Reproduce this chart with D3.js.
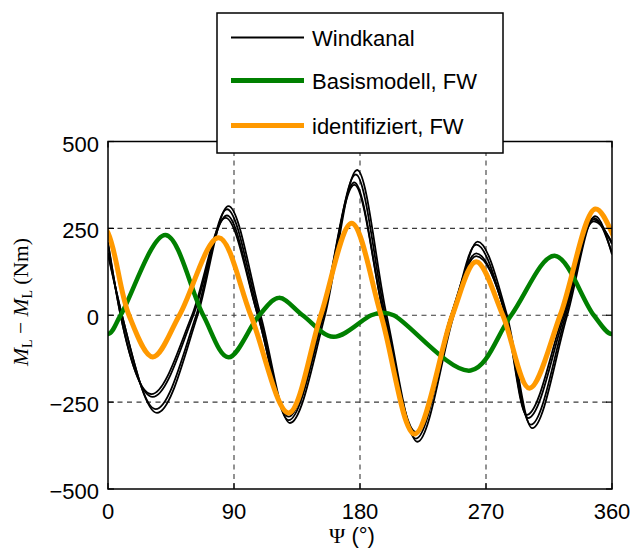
<!DOCTYPE html>
<html><head><meta charset="utf-8">
<script src="https://cdn.jsdelivr.net/npm/d3@7"></script>
<style>body{margin:0;background:#fff}svg{display:block}</style>
</head><body>
<svg id="c" width="633" height="551"></svg>
<script>
// ---- data ----
const xTicks = [0, 90, 180, 270, 360];
const yTicks = [500, 250, 0, -250, -500];
const legendLabels = ["Windkanal", "Basismodell, FW", "identifiziert, FW"];

// Windkanal (several measurement runs)
const psiWindA = [0, 10, 35, 64, 86, 109, 130, 155, 178, 199, 221, 247, 264, 285, 303, 328, 348, 360];
const windA    = [175, 0, -281, 0, 314, 0, -310, 0, 418, 0, -364, 0, 212, 0, -325, 0, 285, 175];
const psiWindA2 = [0, 10, 34, 63, 85, 108, 129, 154, 177, 198, 220, 246, 263, 284, 302, 327, 347, 360];
const windA2    = [180, 0, -270, 0, 305, 0, -302, 0, 405, 0, -355, 0, 203, 0, -315, 0, 280, 180];
const psiWindB = [0, 9, 31, 60, 84, 107, 128, 153, 176, 197, 220, 245, 263, 284, 299, 325, 347, 360];
const windB    = [210, 0, -227, 0, 280, 0, -285, 0, 375, 0, -336, 0, 170, 0, -287, 0, 270, 210];
const psiWindB2 = [0, 9, 32, 61, 85, 107, 129, 153, 176, 197, 220, 245, 263, 284, 300, 326, 347, 360];
const windB2    = [205, 0, -235, 0, 287, 0, -292, 0, 382, 0, -342, 0, 178, 0, -296, 0, 275, 205];

// Basismodell, FW  (first/last points continue the periodic curve past the axis ends)
const psiBasis = [-13, 0, 9, 41, 68, 86, 108, 122, 139, 161, 188, 196, 204, 259, 288, 319, 347, 360, 369];
const basis    = [0, -54, 0, 231, 0, -121, 0, 50, 0, -62, 0, 7, 0, -159, 0, 171, 0, -54, 0];

// identifiziert, FW
const psiIdent = [-12, 0, 15, 32, 51, 79, 102, 129, 152, 174, 195, 219, 246, 263, 282, 301, 323, 348, 360, 375];
const ident    = [306, 237, 0, -120, 0, 223, 0, -281, 0, 265, 0, -342, 0, 154, 0, -210, 0, 306, 237, 0];

// ---- layout ----
const svg = d3.select("#c");
const L = 108, R = 612, T = 141.5, B = 489;
const x = d3.scaleLinear().domain([0, 360]).range([L, R]);
const y = d3.scaleLinear().domain([-500, 500]).range([B, T]);
const sans = "'Liberation Sans', Arial, Helvetica, sans-serif";
const serif = "'Liberation Serif', 'Times New Roman', serif";

// grid
const grid = svg.append("g").attr("stroke", "#3a3a3a").attr("stroke-width", 1.1).attr("stroke-dasharray", "5,4.5");
[90, 180, 270].forEach(v => grid.append("line").attr("x1", x(v)).attr("x2", x(v)).attr("y1", T).attr("y2", B));
[250, 0, -250].forEach(v => grid.append("line").attr("x1", L).attr("x2", R).attr("y1", y(v)).attr("y2", y(v)));

// curves
const lineBlack = d3.line().x(d => x(d[0])).y(d => y(d[1])).curve(d3.curveMonotoneX);
const lineSmooth = d3.line().x(d => x(d[0])).y(d => y(d[1])).curve(d3.curveCatmullRom.alpha(0.5));
const zip = (a, b) => a.map((v, i) => [v, b[i]]);
svg.append("clipPath").attr("id", "clp").append("rect").attr("x", L).attr("y", T - 20).attr("width", R - L).attr("height", B - T + 20);
const plot = svg.append("g").attr("clip-path", "url(#clp)");
[[psiWindA, windA], [psiWindA2, windA2], [psiWindB, windB], [psiWindB2, windB2]].forEach(([p, v]) =>
  plot.append("path").attr("d", lineBlack(zip(p, v))).attr("fill", "none").attr("stroke", "#000").attr("stroke-width", 1.8).attr("stroke-linejoin", "round"));
plot.append("path").attr("d", lineSmooth(zip(psiBasis, basis))).attr("fill", "none").attr("stroke", "#008000").attr("stroke-width", 4.5);
plot.append("path").attr("d", lineSmooth(zip(psiIdent, ident))).attr("fill", "none").attr("stroke", "#ff9900").attr("stroke-width", 5);

// frame
svg.append("rect").attr("x", L).attr("y", T).attr("width", R - L).attr("height", B - T)
  .attr("fill", "none").attr("stroke", "#000").attr("stroke-width", 1.5);

// ticks
const tk = svg.append("g").attr("stroke", "#000").attr("stroke-width", 1.2);
xTicks.forEach(v => {
  tk.append("line").attr("x1", x(v)).attr("x2", x(v)).attr("y1", B).attr("y2", B - 6);
  tk.append("line").attr("x1", x(v)).attr("x2", x(v)).attr("y1", T).attr("y2", T + 6);
});
yTicks.forEach(v => {
  tk.append("line").attr("x1", L).attr("x2", L + 6).attr("y1", y(v)).attr("y2", y(v));
  tk.append("line").attr("x1", R).attr("x2", R - 6).attr("y1", y(v)).attr("y2", y(v));
});

// tick labels
const fmt = d3.format("d");
svg.append("g").selectAll("text").data(xTicks).join("text")
  .attr("x", d => x(d)).attr("y", 519).attr("text-anchor", "middle")
  .attr("font-family", sans).attr("font-size", 22).text(d => fmt(d));
svg.append("g").selectAll("text").data(yTicks).join("text")
  .attr("x", 99).attr("y", d => y(d) + 10).attr("text-anchor", "end")
  .attr("font-family", sans).attr("font-size", 22).text(d => fmt(d));

// axis titles
const xl = svg.append("text").attr("x", 352).attr("y", 543).attr("text-anchor", "middle").attr("font-size", 22);
xl.append("tspan").attr("font-family", serif).text("Ψ");
xl.append("tspan").attr("font-family", sans).text(" (°)");

const yl = svg.append("text").attr("transform", "translate(28,302) rotate(-90)")
  .attr("text-anchor", "middle").attr("font-family", serif).attr("font-size", 21.5);
yl.append("tspan").attr("font-style", "italic").text("M");
yl.append("tspan").attr("font-size", 14).attr("dy", 4).text("L");
yl.append("tspan").attr("dy", -4).text(" − ");
yl.append("tspan").attr("font-style", "italic").text("M");
yl.append("tspan").attr("font-size", 14).attr("dy", 4).text("L");
yl.append("tspan").attr("dy", -4).text(" (Nm)");

// legend
const lg = svg.append("g");
lg.append("rect").attr("x", 217).attr("y", 13).attr("width", 286).attr("height", 140)
  .attr("fill", "#fff").attr("stroke", "#000").attr("stroke-width", 1.5);
const lgColors = ["#000", "#008000", "#ff9900"];
const lgWidths = [1.8, 5, 5];
const lgY = [37.5, 80.5, 125.5];
legendLabels.forEach((t, i) => {
  lg.append("line").attr("x1", 231).attr("x2", 304).attr("y1", lgY[i]).attr("y2", lgY[i])
    .attr("stroke", lgColors[i]).attr("stroke-width", lgWidths[i]);
  lg.append("text").attr("x", 312).attr("y", lgY[i] + 8.5).attr("font-family", sans).attr("font-size", 22).text(t);
});
</script>
</body></html>
